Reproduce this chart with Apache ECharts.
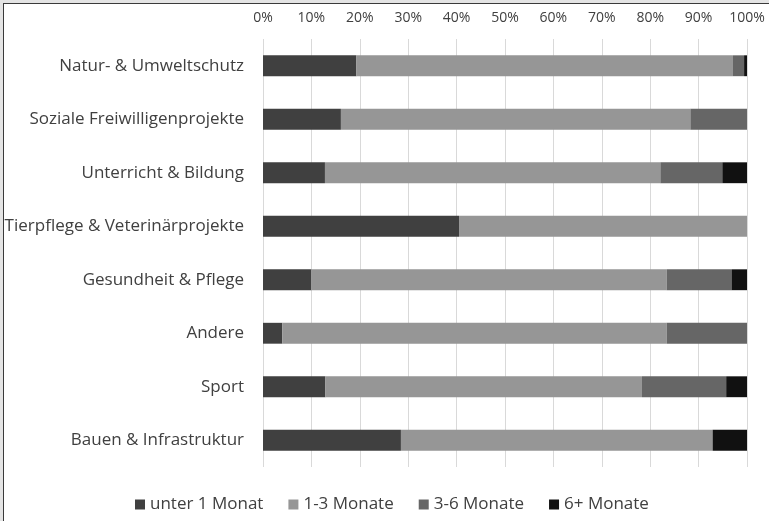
<!DOCTYPE html>
<html>
<head>
<meta charset="utf-8">
<script src="https://cdn.jsdelivr.net/npm/echarts@6/dist/echarts.min.js"></script>
<style>
  html, body { margin: 0; padding: 0; background: #e4e4e4; }
  #frame {
    position: absolute; left: 3px; top: 3px; width: 780px; height: 530px;
    background: #fff; border-left: 1px solid #3a3a3a; border-top: 1px solid #3a3a3a;
  }
  #chart { position: absolute; left: -4px; top: -4px; width: 769px; height: 521px; }
</style>
</head>
<body>
<div id="frame"><div id="chart"></div></div>
<script>
// categories listed top to bottom
const categories = [
  "Natur- & Umweltschutz",
  "Soziale Freiwilligenprojekte",
  "Unterricht & Bildung",
  "Tierpflege & Veterinärprojekte",
  "Gesundheit & Pflege",
  "Andere",
  "Sport",
  "Bauen & Infrastruktur",
];
const seriesNames = ["unter 1 Monat", "1-3 Monate", "3-6 Monate", "6+ Monate"];
const unter1 = [19.3, 16.1, 12.8, 40.5, 10.0, 4.0, 12.9, 28.5];
const m1bis3 = [77.8, 72.2, 69.3, 59.5, 73.4, 79.4, 65.4, 64.4];
const m3bis6 = [2.3, 11.7, 12.8, 0, 13.4, 16.6, 17.4, 0];
const m6plus = [0.6, 0, 5.1, 0, 3.2, 0, 4.3, 7.1];
const colors = ["#404040", "#969696", "#666666", "#111111"];

const chart = echarts.init(document.getElementById("chart"));
const font = "'Open Sans', sans-serif";

const series = [unter1, m1bis3, m3bis6, m6plus].map((vals, i) => ({
  name: seriesNames[i],
  type: "bar",
  stack: "total",
  barWidth: "39%",
  data: vals,
  itemStyle: { color: colors[i] },
}));

chart.setOption({
  animation: false,
  color: colors,
  textStyle: { fontFamily: font },
  grid: { left: 263, right: 22, top: 39, bottom: 54 },
  xAxis: {
    type: "value",
    position: "top",
    min: 0,
    max: 100,
    interval: 10,
    axisLine: { show: false },
    axisTick: { show: false },
    axisLabel: { formatter: "{value}%", color: "#404040", fontSize: 14, fontFamily: font, margin: 14 },
    splitLine: { lineStyle: { color: "#d9d9d9", width: 1 } },
  },
  yAxis: {
    type: "category",
    inverse: true,
    data: categories,
    axisLine: { show: false },
    axisTick: { show: false },
    axisLabel: { color: "#404040", fontSize: 17, fontFamily: font, margin: 19 },
  },
  legend: {
    bottom: 3,
    left: 130,
    itemWidth: 10,
    itemHeight: 10,
    itemGap: 25,
    icon: "rect",
    textStyle: { color: "#404040", fontSize: 17, fontFamily: font },
    data: seriesNames,
  },
  series: series,
});
</script>
</body>
</html>
